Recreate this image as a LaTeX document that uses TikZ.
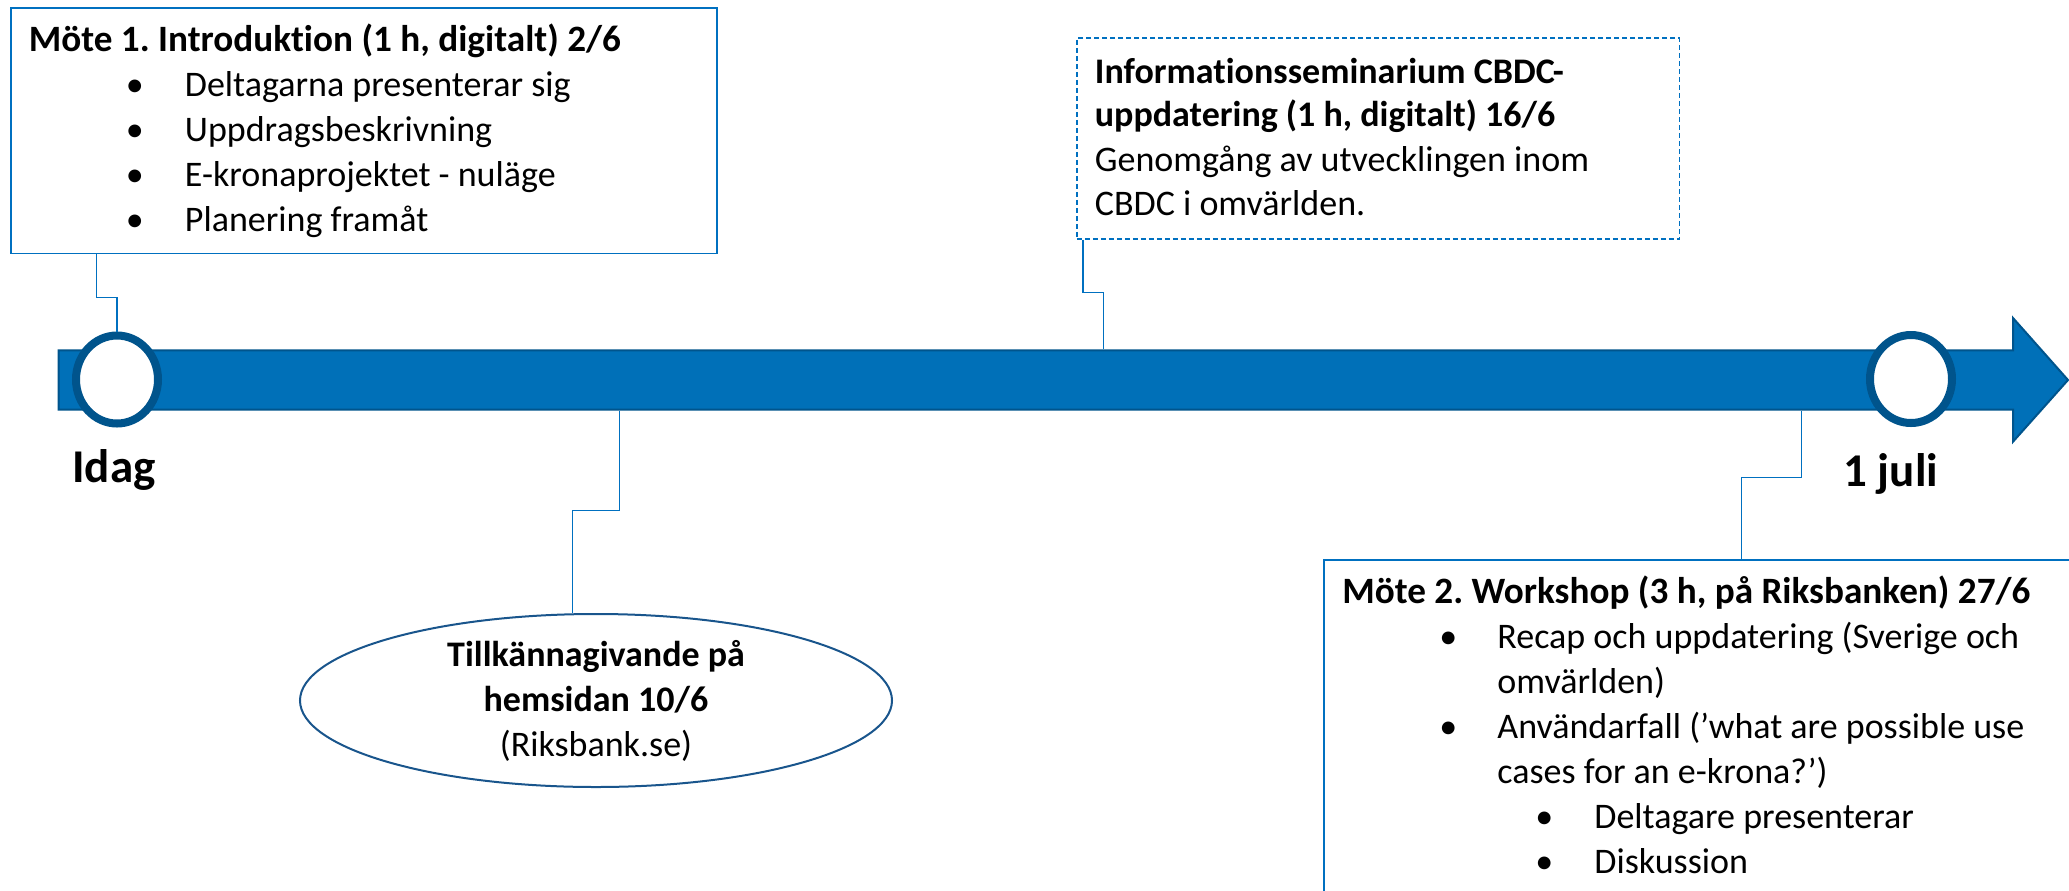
\documentclass[tikz,border=0pt]{standalone}
\usepackage{fontspec}
\setmainfont{Carlito}[Ligatures={NoCommon}]
\usetikzlibrary{positioning,calc,shapes.geometric}
\definecolor{barblue}{RGB}{0,112,184}
\definecolor{bardark}{RGB}{0,84,140}
\definecolor{lineblue}{RGB}{0,112,192}
\definecolor{ovalblue}{RGB}{25,85,140}
\frenchspacing

\begin{document}
\begin{tikzpicture}[x=0.5pt, y=-0.5pt,
    mbox/.style={rectangle, draw=lineblue, line width=0.8pt, anchor=north west, inner sep=0pt},
    txt/.style={anchor=base west, inner sep=0pt, font=\fontsize{18}{22.5}\selectfont},
    hdr/.style={txt, font=\fontsize{18}{22.5}\selectfont\bfseries},
    mhdr/.style={txt, font=\fontsize{18.6}{22.5}\selectfont\bfseries},
    datum/.style={anchor=base west, inner sep=0pt, font=\fontsize{23.5}{28}\selectfont\bfseries},
    ring/.style={ellipse, draw=bardark, line width=4pt, fill=white, minimum width=41pt, minimum height=44pt, inner sep=0pt},
    oval/.style={ellipse, draw=ovalblue, line width=1pt, minimum width=296pt, minimum height=86.5pt, inner sep=0pt, align=center, font=\fontsize{18}{22.5}\selectfont},
    conn/.style={draw=lineblue, line width=0.65pt}
]
    \useasboundingbox (0,0) rectangle (2069,890);

    % timeline arrow
    \fill[barblue, draw=bardark, line width=1pt] (58.7,350.3) -- (2013,350.3) -- (2013,318) -- (2068,380) -- (2013,441.7) -- (2013,409.7) -- (58.7,409.7) -- cycle;
    \coordinate (t16) at (1103.4,349.3);
    \coordinate (t10) at (619.3,410.7);
    \coordinate (t27) at (1801.7,410.7);

    % boxes
    \node[mbox, minimum width=353pt, minimum height=122.7pt] (m1box) at (10.4,7.3) {};
    \node[mbox, dash pattern=on 2.5pt off 1.5pt, minimum width=301.3pt, minimum height=100.5pt] (info) at (1076,37.3) {};
    \node[mbox, minimum width=400pt, minimum height=200pt] (m2box) at (1323,559) {};
    \node[oval] (ann) at (596,700.5) {\textbf{Tillkännagivande på}\\\textbf{hemsidan 10/6}\\(Riksbank.se)};
    \node[ring] (c1) at (117,379.5) {};
    \node[ring] (c2) at (1911,379) {};

    % connectors
    \draw[conn] ($(m1box.south west)+(86.3,0)$) -- ++(0,43) -| (c1.north);
    \draw[conn] ($(info.south west)+(7,0)$) -- ++(0,52.4) -| (t16);
    \draw[conn] (t10) -- ++(0,100) -| ($(ann.north)+(-23.3,0)$);
    \draw[conn] (t27) -- ++(0,67) -| ($(m2box.north west)+(418.7,0)$);

    \node[datum] (today) at (72,482.3) {Idag};
    \node[datum] (julyfirst) at (1843,486) {1 juli};

    % Möte 1
    \node[mhdr] (m1title) at (28.5,51.7) {Möte 1. Introduktion (1 h, digitalt) 2/6};
    \foreach \entry [count=\i] in {Deltagarna presenterar sig, Uppdragsbeskrivning, E-kronaprojektet - nuläge, Planering framåt} {
        \node[txt] (m1b\i) at (125.5,51.7+45*\i) {•};
        \node[txt] (m1t\i) at (184.5,51.7+45*\i) {\entry};
    }

    % Informationsseminarium
    \node[hdr] (info1) at (1094.5,83.3) {Informationsseminarium CBDC-};
    \node[hdr] (info2) at (1094.5,126.7) {uppdatering (1 h, digitalt) 16/6};
    \node[txt] (info3) at (1094.5,171.7) {Genomgång av utvecklingen inom};
    \node[txt] (info4) at (1094.5,215) {CBDC i omvärlden.};

    % Möte 2
    \node[mhdr] (m2title) at (1342,603.3) {Möte 2. Workshop (3 h, på Riksbanken) 27/6};
    \node[txt] (m2b1) at (1439,648.3) {•};
    \node[txt] (m2t1) at (1497,648.3) {Recap och uppdatering (Sverige och};
    \node[txt] (m2t2) at (1497,693.3) {omvärlden)};
    \node[txt] (m2b3) at (1439,738.3) {•};
    \node[txt] (m2t3) at (1497,738.3) {Användarfall (’what are possible use};
    \node[txt] (m2t4) at (1497,783.3) {cases for an e-krona?’)};
    \node[txt] (m2b5) at (1535,828.3) {•};
    \node[txt] (m2t5) at (1594,828.3) {Deltagare presenterar};
    \node[txt] (m2b6) at (1535,873.3) {•};
    \node[txt] (m2t6) at (1594,873.3) {Diskussion};
\end{tikzpicture}
\end{document}
